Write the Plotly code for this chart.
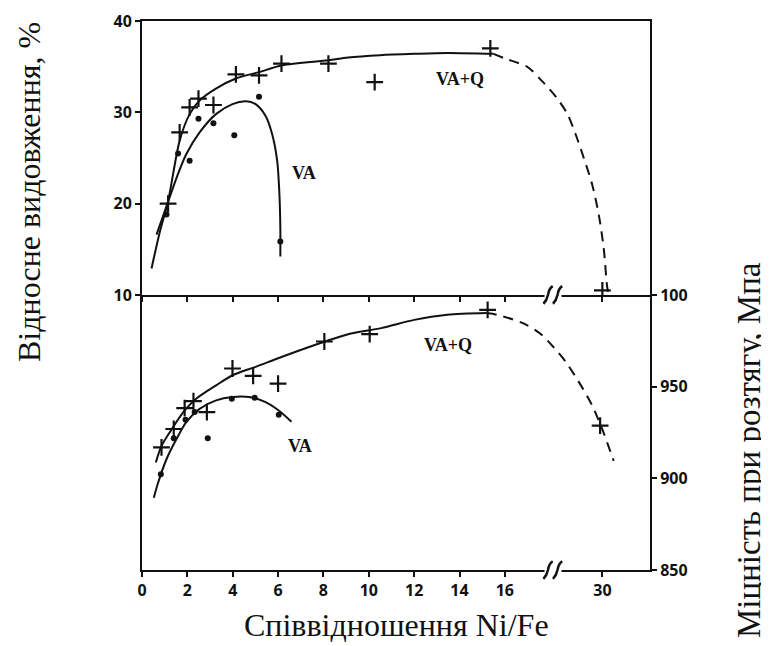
import plotly.graph_objects as go

# ---------------- data ----------------
xtick_vals = [0, 2, 4, 6, 8, 10, 12, 14, 16, 30]
xtick_text = ["0", "2", "4", "6", "8", "10", "12", "14", "16", "30"]

# Top panel: relative elongation, %
elong_vaq_x = [1.15, 1.66, 2.1, 2.49, 3.15, 4.14, 5.16, 6.15, 8.22, 10.26, 15.36, 30.0]
elong_vaq_y = [20.0, 27.8, 30.55, 31.5, 30.8, 34.15, 34.05, 35.33, 35.33, 33.3, 37.0, 10.5]
elong_va_x = [1.08, 1.59, 2.1, 2.49, 3.15, 4.07, 5.16, 6.1]
elong_va_y = [18.8, 25.5, 24.7, 29.3, 28.8, 27.5, 31.7, 15.85]

elong_vaq_fit_x = [0.42, 0.79, 1.15, 1.66, 2.1, 2.54, 3.26, 4.14, 5.16, 6.18, 8.22, 9.09, 10.5, 12.0, 13.46, 15.5]
elong_vaq_fit_y = [12.9, 16.95, 20.26, 26.9, 29.8, 31.3, 32.6, 33.7, 34.4, 35.15, 35.7, 36.0, 36.25, 36.4, 36.5, 36.4]
elong_vaq_dash_x = [15.5, 16.0, 17.0, 17.7, 25.5, 28.46, 28.82, 29.18, 29.55, 29.84, 30.06, 30.2, 30.25]
elong_vaq_dash_y = [36.4, 35.9, 34.96, 33.5, 31.65, 29.8, 27.6, 25.0, 22.1, 18.8, 15.1, 11.1, 10.3]
elong_va_fit_x = [0.64, 1.08, 1.52, 1.95, 2.54, 3.26, 3.99, 4.58, 5.01, 5.45, 5.74, 5.96, 6.06, 6.1, 6.1]
elong_va_fit_y = [16.6, 19.7, 22.8, 25.4, 27.8, 29.8, 30.9, 31.2, 30.9, 29.6, 27.6, 24.7, 21.0, 17.3, 14.2]

# Bottom panel: tensile strength, MPa
str_vaq_x = [0.86, 1.4, 1.88, 2.27, 2.86, 3.99, 4.9, 6.0, 8.04, 10.04, 15.24, 29.9]
str_vaq_y = [916.9, 926.9, 938.3, 942.1, 936.1, 959.9, 955.9, 951.6, 974.6, 978.6, 991.9, 928.7]
str_va_x = [0.83, 1.4, 1.92, 2.32, 2.9, 3.96, 4.97, 6.03]
str_va_y = [902.2, 921.8, 932.0, 936.1, 921.8, 943.4, 944.0, 934.6]

str_vaq_fit_x = [0.61, 0.86, 1.37, 1.88, 2.39, 3.27, 3.99, 5.01, 6.18, 8.07, 9.09, 10.55, 12.0, 13.46, 15.2]
str_vaq_fit_y = [908.6, 917.7, 927.9, 937.0, 943.4, 950.7, 956.2, 960.8, 966.3, 974.6, 978.6, 981.9, 986.4, 989.2, 990.1]
str_vaq_dash_x = [15.2, 15.65, 16.8, 17.54, 23.8, 28.38, 28.96, 29.55, 29.99, 30.5]
str_vaq_dash_y = [990.1, 989.2, 984.6, 979.1, 971.8, 963.6, 952.6, 939.7, 926.9, 909.5]
str_va_fit_x = [0.52, 0.71, 1.08, 1.52, 1.95, 2.54, 3.27, 3.99, 4.72, 5.45, 6.03, 6.59]
str_va_fit_y = [889.4, 897.6, 910.4, 921.4, 930.6, 937.9, 942.5, 944.3, 944.3, 941.6, 937.0, 930.9]

# ---------------- broken Ni/Fe scale ----------------
BREAK_LO, BREAK_HI = 17.6, 28.2   # Ni/Fe values on both sides of the break
GAP = 0.9                          # axis length taken by the break
X_MAX = 32.1                       # Ni/Fe at the right border


def xpos(v):
    if v <= BREAK_LO:
        return v
    if v >= BREAK_HI:
        return v - BREAK_HI + BREAK_LO + GAP
    return BREAK_LO + (v - BREAK_LO) / (BREAK_HI - BREAK_LO) * GAP


def xs(vals):
    return [xpos(v) for v in vals]


BLACK = "#111111"
fig = go.Figure()

def line(x, y, xa, ya, dash="solid"):
    fig.add_trace(go.Scatter(x=xs(x), y=y, xaxis=xa, yaxis=ya, mode="lines",
                             line=dict(color=BLACK, width=2, shape="spline", smoothing=0.8, dash=dash),
                             showlegend=False, hoverinfo="skip"))

def pts(x, y, xa, ya, symbol, size, lw=0):
    fig.add_trace(go.Scatter(x=xs(x), y=y, xaxis=xa, yaxis=ya, mode="markers",
                             marker=dict(symbol=symbol, size=size, color=BLACK,
                                         line=dict(color=BLACK, width=lw)),
                             showlegend=False))

# top panel
line(elong_vaq_fit_x, elong_vaq_fit_y, "x2", "y2")
line(elong_vaq_dash_x, elong_vaq_dash_y, "x2", "y2", dash="10px,7px")
line(elong_va_fit_x, elong_va_fit_y, "x2", "y2")
pts(elong_vaq_x, elong_vaq_y, "x2", "y2", "cross-thin", 12, 2.2)
pts(elong_va_x, elong_va_y, "x2", "y2", "circle", 6)
# bottom panel
line(str_vaq_fit_x, str_vaq_fit_y, "x", "y")
line(str_vaq_dash_x, str_vaq_dash_y, "x", "y", dash="10px,7px")
line(str_va_fit_x, str_va_fit_y, "x", "y")
pts(str_vaq_x, str_vaq_y, "x", "y", "cross-thin", 12, 2.2)
pts(str_va_x, str_va_y, "x", "y", "circle", 6)

tickfont = dict(family="Noto Sans", size=16, color=BLACK, weight="bold")
SPLIT = 0.501
axis_common = dict(showline=True, linecolor=BLACK, linewidth=2, automargin=False,
                   showgrid=False, zeroline=False, ticks="outside", ticklen=5,
                   tickwidth=1.5, tickcolor=BLACK, tickfont=tickfont)
xrange = [0, xpos(X_MAX)]

# the page body has an 8px margin: the figure is sized/margined so that the
# plot area lands at x 142..650, y 21..570 in the window
fig.update_layout(
    width=761, height=638,
    margin=dict(l=134, r=119, t=13, b=76, autoexpand=False),
    paper_bgcolor="white", plot_bgcolor="white",
    xaxis=dict(domain=[0, 1], anchor="y", range=xrange, mirror=False,
               tickvals=xs(xtick_vals), ticktext=xtick_text, **axis_common),
    xaxis2=dict(domain=[0, 1], anchor="y2", range=xrange, matches="x", mirror=True,
                tickvals=xs(xtick_vals), showticklabels=False, **axis_common),
    yaxis=dict(domain=[0, SPLIT], anchor="x", side="right", range=[850, 1000], mirror=True,
               tickvals=[850, 900, 950, 1000], ticktext=["850", "900", "950", "100"],
               **axis_common),
    yaxis2=dict(domain=[SPLIT, 1], anchor="x2", side="left", range=[10, 40], mirror=True,
                tickvals=[10, 20, 30, 40], **axis_common),
)

# break glyphs on the middle and the bottom axis lines
g0 = BREAK_LO + 0.15
for ypaper in (0, SPLIT):
    fig.add_shape(type="rect", xref="x", yref="paper", x0=g0, x1=g0 + 0.75,
                  y0=ypaper - 0.008, y1=ypaper + 0.008, fillcolor="white",
                  line=dict(width=0), layer="above")
    for dx in (0.0, 0.42):
        xa = g0 + dx
        fig.add_shape(type="path", xref="x", yref="paper", layer="above",
                      path=f"M {xa-0.05},{ypaper-0.016} Q {xa+0.1},{ypaper-0.01} {xa+0.15},{ypaper} "
                           f"Q {xa+0.2},{ypaper+0.012} {xa+0.36},{ypaper+0.016}",
                      line=dict(color=BLACK, width=2.5))

lab = dict(family="Liberation Serif", size=18, color=BLACK, weight="bold")
for text, x, y, ya in [("VA+Q", 14.03, 33.7, "y2"), ("VA", 7.13, 23.35, "y2"),
                       ("VA+Q", 13.5, 972.5, "y"), ("VA", 6.95, 917.6, "y")]:
    fig.add_annotation(text=text, x=xpos(x), y=y, xref="x" if ya == "y" else "x2", yref=ya,
                       showarrow=False, font=lab)

tfont = dict(family="Liberation Serif", size=32, color=BLACK)
fig.add_annotation(text="Відносне видовження, %", xref="paper", yref="paper",
                   x=(29 - 142) / 508, y=(570 - 192) / 549, textangle=-90,
                   showarrow=False, font=tfont, xanchor="center", yanchor="middle")
fig.add_annotation(text="Міцність при розтягу, Мпа", xref="paper", yref="paper",
                   x=(749 - 142) / 508, y=(570 - 450) / 549, textangle=-90,
                   showarrow=False, font=dict(tfont, size=33), xanchor="center", yanchor="middle")
fig.add_annotation(text="Співвідношення Ni/Fe", xref="paper", yref="paper",
                   x=(396 - 142) / 508, y=(570 - 625) / 549,
                   showarrow=False, font=tfont, xanchor="center", yanchor="middle")

fig.write_html("out.html")
